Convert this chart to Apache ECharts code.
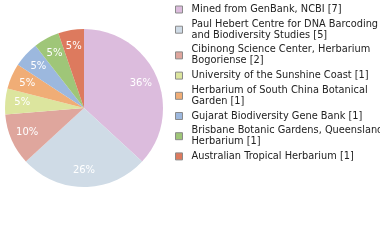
<!DOCTYPE html>
<html><head><meta charset="utf-8">
<script src="https://cdn.jsdelivr.net/npm/echarts@6/dist/echarts.min.js"></script>
<style>html,body{margin:0;padding:0;background:#fff}#c{width:380px;height:240px}</style>
</head><body><div id="c"></div>
<script>
var categories = [
  "Mined from GenBank, NCBI",
  "Paul Hebert Centre for DNA Barcoding and Biodiversity Studies",
  "Cibinong Science Center, Herbarium Bogoriense",
  "University of the Sunshine Coast",
  "Herbarium of South China Botanical Garden",
  "Gujarat Biodiversity Gene Bank",
  "Brisbane Botanic Gardens, Queensland Herbarium",
  "Australian Tropical Herbarium"
];
var legendLabels = [
  "Mined from GenBank, NCBI [7]",
  "Paul Hebert Centre for DNA Barcoding\nand Biodiversity Studies [5]",
  "Cibinong Science Center, Herbarium\nBogoriense [2]",
  "University of the Sunshine Coast [1]",
  "Herbarium of South China Botanical\nGarden [1]",
  "Gujarat Biodiversity Gene Bank [1]",
  "Brisbane Botanic Gardens, Queensland\nHerbarium [1]",
  "Australian Tropical Herbarium [1]"
];
var counts = [7, 5, 2, 1, 1, 1, 1, 1];
var colors = ["#dcbcdd", "#cfdbe6", "#dfa69d", "#dce59e", "#f0ad76", "#9cb8de", "#9fc678", "#dd7a5e"];

var total = counts.reduce(function(a,b){return a+b;},0);
var data = categories.map(function(n,i){return {name:n, value:counts[i], itemStyle:{color:colors[i]}};});
var labelData = categories.map(function(n,i){return {name:n, value:counts[i]};});
var labelMap = {};
categories.forEach(function(n,i){labelMap[n]=legendLabels[i];});

var chart = echarts.init(document.getElementById('c'), null, {renderer:'canvas'});
chart.setOption({
  animation:false,
  legend:{
    orient:'vertical', left:175, top:4, padding:0,
    itemWidth:7, itemHeight:7, itemGap:3.7,
    icon:'rect',
    itemStyle:{borderColor:'#8a8a8a', borderWidth:1},
    textStyle:{fontFamily:'DejaVu Sans', fontSize:9.8, lineHeight:11, color:'#222', padding:[0,0,0,4]},
    formatter:function(n){return labelMap[n];},
    data:categories
  },
  series:[
    {type:'pie', center:[84,108], radius:79, startAngle:90, clockwise:true,
     silent:true, label:{show:false}, labelLine:{show:false}, data:data},
    {type:'pie', center:[84,108], radius:[39,79], startAngle:90, clockwise:true,
     silent:true, legendHoverLink:false,
     itemStyle:{color:'rgba(0,0,0,0)'},
     label:{show:true, position:'inside', color:'#fff', fontFamily:'DejaVu Sans', fontSize:10,
       formatter:function(p){return Math.floor(p.value/total*100)+'%';}},
     labelLine:{show:false}, data:labelData}
  ]
});
</script></body></html>
